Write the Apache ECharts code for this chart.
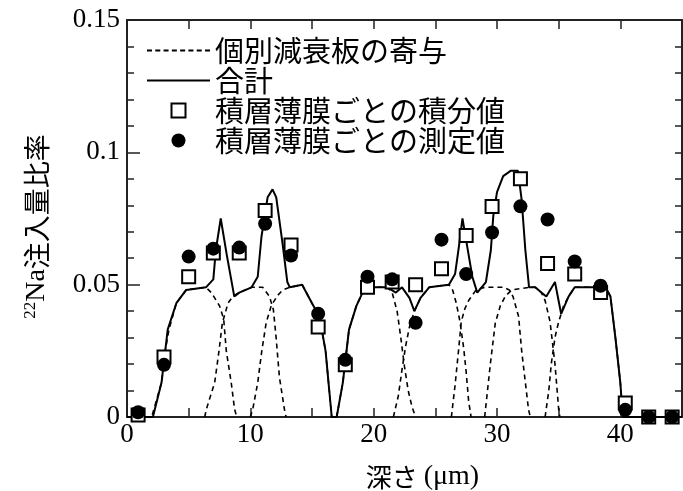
<!DOCTYPE html>
<html>
<head>
<meta charset="utf-8">
<script src="https://cdn.jsdelivr.net/npm/echarts@6/dist/echarts.min.js"></script>
<style>html,body{margin:0;padding:0;background:#fff}#c{width:683px;height:491px}</style>
</head>
<body>
<div id="c"></div>
<script>
// ---- data ----
const xTicks = [0, 10, 20, 30, 40];
const yTicks = [0, 0.05, 0.1, 0.15];
const seriesNames = ['個別減衰板の寄与', '合計', '積層薄膜ごとの積分値', '積層薄膜ごとの測定値'];

// individual attenuation plate contributions [depth, ratio]
const plateA = [[0,0],[2.0,0],[2.8,0.013],[3.1,0.025],[3.4,0.033],[4.0,0.043],[4.8,0.048],[6.4,0.049],[6.84,0.047],[7.5,0.042],[7.84,0.037],[8.05,0.025],[8.45,0.013],[8.72,0.003],[8.9,0]];
const plateB = [[6.3,0],[6.44,0.003],[7.11,0.013],[7.46,0.025],[7.73,0.0355],[8.19,0.043],[8.59,0.0456],[9.1,0.047],[10.1,0.049],[11.0,0.049],[11.55,0.0456],[11.87,0.0405],[12.09,0.030],[12.36,0.015],[12.76,0.003],[12.9,0]];
const plateC = [[10.0,0],[10.2,0.003],[10.6,0.013],[10.93,0.025],[11.28,0.0355],[11.69,0.042],[12.22,0.046],[12.63,0.048],[13.2,0.049],[14.2,0.050],[15.0,0.043],[15.6,0.038],[16.1,0.025],[16.6,0],[17.0,0]];
const plateD = [[17.0,0],[17.5,0.013],[17.8,0.025],[18.0,0.033],[18.6,0.042],[19.1,0.047],[19.8,0.049],[21.1,0.049],[21.5,0.047],[21.9,0.040],[22.2,0.030],[22.5,0.019],[22.8,0.010],[23.1,0.004],[23.4,0]];
const plateE = [[21.6,0],[22.0,0.008],[22.3,0.018],[22.6,0.027],[22.9,0.034],[23.3,0.040],[23.8,0.045],[24.5,0.049],[26.1,0.050],[26.4,0.048],[26.7,0.043],[27.0,0.036],[27.3,0.026],[27.5,0.017],[27.7,0.006],[27.9,0]];
const plateF = [[26.3,0],[26.6,0.012],[26.9,0.026],[27.1,0.036],[27.4,0.041],[27.7,0.044],[28.3,0.048],[29.0,0.049],[30.5,0.049],[31.0,0.048],[31.3,0.0455],[31.75,0.038],[32.0,0.025],[32.3,0.013],[32.55,0.003],[32.7,0]];
const plateG = [[29.0,0],[29.46,0.020],[29.86,0.0355],[30.27,0.042],[30.67,0.0456],[31.2,0.048],[32.6,0.049],[33.1,0.049],[33.6,0.047],[33.9,0.044],[34.3,0.036],[34.7,0.020],[35.0,0.003],[35.1,0]];
const plateH = [[33.9,0],[34.2,0.010],[34.4,0.020],[34.7,0.030],[35.0,0.036],[35.4,0.042],[35.8,0.0455],[36.3,0.049],[38.8,0.049],[39.2,0.0455],[39.6,0.030],[40.0,0.013],[40.2,0],[45,0]];

// total
const totalCurve = [[0,0],[2.1,0],[2.8,0.013],[3.1,0.025],[3.3,0.033],[4.0,0.043],[4.8,0.048],[6.4,0.049],[7.0,0.052],[7.2,0.063],[7.6,0.075],[8.1,0.061],[8.7,0.0455],[9.1,0.047],[10.1,0.049],[10.6,0.053],[10.9,0.068],[11.4,0.083],[11.8,0.086],[12.1,0.083],[12.6,0.066],[13.0,0.051],[13.2,0.049],[14.2,0.050],[15.0,0.043],[15.6,0.038],[16.1,0.025],[16.6,0],[17.0,0],[17.5,0.013],[17.8,0.025],[18.0,0.033],[18.6,0.042],[19.1,0.047],[19.8,0.049],[21.1,0.049],[21.8,0.047],[22.3,0.049],[22.9,0.045],[23.3,0.040],[23.8,0.045],[24.5,0.049],[26.1,0.050],[26.6,0.054],[26.9,0.064],[27.2,0.075],[27.6,0.064],[28.0,0.053],[28.4,0.047],[29.1,0.051],[29.5,0.063],[29.7,0.076],[30.0,0.085],[30.5,0.091],[31.1,0.093],[31.7,0.093],[32.0,0.082],[32.3,0.063],[32.6,0.049],[33.1,0.049],[33.6,0.047],[34.0,0.0455],[34.7,0.051],[35.2,0.039],[35.8,0.0455],[36.3,0.049],[38.8,0.049],[39.2,0.0455],[39.6,0.030],[40.0,0.013],[40.2,0],[45,0]];

// stacked film points
const filmDepth = [0.9,3.0,5.0,7.0,9.1,11.2,13.3,15.5,17.7,19.5,21.5,23.4,25.5,27.5,29.6,31.9,34.1,36.3,38.4,40.4,42.3,44.2];
const integralVals = [0.0008,0.0227,0.053,0.062,0.062,0.078,0.065,0.034,0.0197,0.049,0.051,0.050,0.056,0.0686,0.0795,0.090,0.058,0.054,0.047,0.0053,0,0];
const measuredVals = [0.0018,0.0197,0.0606,0.0636,0.064,0.073,0.061,0.039,0.0216,0.053,0.052,0.0356,0.067,0.054,0.0697,0.0796,0.0746,0.0588,0.0496,0.0027,0,0];

// ---- chart ----
const plates = [plateA, plateB, plateC, plateD, plateE, plateF, plateG, plateH];
const serif = 'Liberation Serif';
const cjk = 'Noto Sans CJK JP';
const axisCol = '#222';

// legend icons (paths)
let dashPath = 'path://';
for (let i = 0; i < 8; i++) { const s = (i * 58 / 7).toFixed(2); dashPath += 'M' + s + ',0h5v2h-5z'; }
const solidPath = 'path://M0,0H63V2H0Z';
const squarePath = 'path://M0,0h10v10h-10z';

const series = [];
plates.forEach(p => series.push({
  name: seriesNames[0], type: 'line', data: p, symbol: 'none', silent: true, color: '#000',
  lineStyle: {color: '#000', width: 1.6, type: [5, 4]}, z: 2
}));
series.push({
  name: seriesNames[1], type: 'line', data: totalCurve, symbol: 'none', silent: true, color: '#000',
  lineStyle: {color: '#000', width: 2}, z: 3
});
series.push({
  name: seriesNames[2], type: 'scatter', symbol: 'rect', symbolSize: 13, color: '#fff',
  data: filmDepth.map((x, i) => [x, integralVals[i]]),
  itemStyle: {color: '#fff', borderColor: '#000', borderWidth: 2, opacity: 1}, z: 4
});
series.push({
  name: seriesNames[3], type: 'scatter', symbol: 'circle', symbolSize: 14, color: '#000',
  data: filmDepth.map((x, i) => [x, measuredVals[i]]),
  itemStyle: {color: '#000', opacity: 1}, z: 5
});

const tickStyle = {color: axisCol, width: 1.5};
const chart = echarts.init(document.getElementById('c'), null, {renderer: 'canvas'});
chart.setOption({
  animation: false,
  backgroundColor: '#fff',
  grid: {left: 127, right: 1, top: 20, bottom: 74, containLabel: false, outerBoundsMode: 'none'},
  legend: {
    data: [
      {name: seriesNames[0], icon: dashPath, itemStyle: {color: '#000', borderWidth: 0}},
      {name: seriesNames[1], icon: solidPath, itemStyle: {color: '#000', borderWidth: 0}},
      {name: seriesNames[2], icon: squarePath, itemStyle: {color: '#fff', borderColor: '#000', borderWidth: 2}},
      {name: seriesNames[3], icon: 'circle', itemStyle: {color: '#000', borderWidth: 0}}
    ],
    orient: 'vertical', left: 142, top: 31, itemWidth: 63, itemHeight: 14, itemGap: 1,
    selectedMode: false,
    textStyle: {fontFamily: cjk, fontSize: 29, color: '#000', lineHeight: 29}
  },
  xAxis: [{
    type: 'value', min: 0, max: 45, interval: 5, position: 'bottom',
    name: '{j|深さ }{s|(μm)}', nameLocation: 'middle', nameGap: 46,
    nameTextStyle: {padding: [0,0,0,36], rich: {
      j: {fontFamily: cjk, fontSize: 26, color: '#000'},
      s: {fontFamily: serif, fontSize: 28, color: '#000'}
    }},
    axisLine: {show: true, onZero: false, lineStyle: {color: axisCol, width: 2}},
    axisTick: {show: true, inside: true, length: 9, lineStyle: tickStyle},
    splitLine: {show: false},
    axisLabel: {margin: 4, fontFamily: serif, fontSize: 27, color: '#000',
      formatter: v => (xTicks.indexOf(v) >= 0 ? String(v) : '')}
  }, {
    type: 'value', min: 0, max: 45, interval: 5, position: 'top',
    axisLine: {show: true, onZero: false, lineStyle: {color: axisCol, width: 2}},
    axisTick: {show: true, inside: true, length: 9, lineStyle: tickStyle},
    axisLabel: {show: false}, splitLine: {show: false}
  }],
  yAxis: [{
    type: 'value', min: 0, max: 0.15, interval: 0.05, position: 'left',
    name: '{sup|22}{na|Na}{j|注入量比率}', nameLocation: 'middle', nameRotate: 90, nameGap: 76,
    nameTextStyle: {padding: [0, 16, 0, 0], rich: {
      sup: {fontFamily: serif, fontSize: 17, color: '#000', verticalAlign: 'top', padding: [0,0,12,0]},
      na: {fontFamily: serif, fontSize: 28, color: '#000'},
      j: {fontFamily: cjk, fontSize: 27, color: '#000'}
    }},
    axisLine: {show: true, onZero: false, lineStyle: {color: axisCol, width: 2}},
    axisTick: {show: true, inside: true, length: 13, lineStyle: tickStyle},
    minorTick: {show: true, splitNumber: 5, length: 7, lineStyle: tickStyle},
    splitLine: {show: false}, minorSplitLine: {show: false},
    axisLabel: {margin: 7, fontFamily: serif, fontSize: 27, color: '#000',
      formatter: v => { const t = yTicks.find(k => Math.abs(k - v) < 1e-9); return t === undefined ? '' : String(t); }}
  }, {
    type: 'value', min: 0, max: 0.15, interval: 0.01, position: 'right',
    axisLine: {show: true, onZero: false, lineStyle: {color: axisCol, width: 2}},
    axisTick: {show: true, inside: true, length: 7, lineStyle: tickStyle},
    axisLabel: {show: false}, splitLine: {show: false}
  }],
  series: series
});
</script>
</body>
</html>
